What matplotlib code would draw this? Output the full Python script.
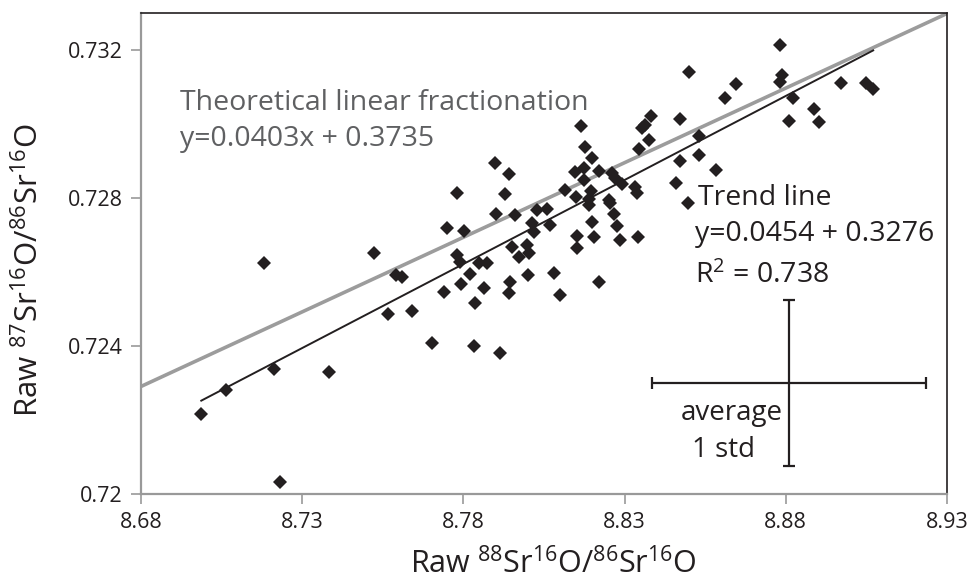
import numpy as np
import matplotlib
matplotlib.use("Agg")
import matplotlib.pyplot as plt

plt.rcParams['font.family'] = ['Open Sans', 'DejaVu Sans']
plt.rcParams['mathtext.fontset'] = 'custom'
plt.rcParams['mathtext.rm'] = 'Open Sans'
plt.rcParams['mathtext.it'] = 'Open Sans:italic'

# Messwerte (Raw 88Sr16O/86Sr16O, Raw 87Sr16O/86Sr16O)
x_88 = [8.6987, 8.7065, 8.7214, 8.7183, 8.7230, 8.7383, 8.7523, 8.7591, 8.7610, 8.7566,
        8.7641, 8.7703, 8.7741, 8.7781, 8.7791, 8.7847, 8.7872, 8.7819, 8.7794, 8.7865,
        8.7837, 8.7943, 8.7940, 8.7999, 8.8080, 8.8099, 8.7834, 8.7912, 8.8221, 8.7897,
        8.7940, 8.7781, 8.7928, 8.7900, 8.7959, 8.7750, 8.7803, 8.8027, 8.8059, 8.8012,
        8.8068, 8.8018, 8.7950, 8.7996, 8.7974, 8.8002, 8.8164, 8.8177, 8.8199, 8.8174,
        8.8146, 8.8221, 8.8174, 8.8261, 8.8270, 8.8292, 8.8333, 8.8115, 8.8149, 8.8196,
        8.8189, 8.8252, 8.8189, 8.8255, 8.8267, 8.8199, 8.8277, 8.8152, 8.8205, 8.8286,
        8.8342, 8.8152, 8.8383, 8.8364, 8.8355, 8.8376, 8.8345, 8.8473, 8.8460, 8.8339,
        8.8781, 8.8501, 8.8644, 8.8610, 8.8788, 8.8781, 8.8971, 8.9049, 8.9071, 8.8822,
        8.8887, 8.8903, 8.8809, 8.8532, 8.8473, 8.8532, 8.8582, 8.8498]
y_87 = [0.72216, 0.72281, 0.72338, 0.72624, 0.72032, 0.72330, 0.72651, 0.72592, 0.72586, 0.72486,
        0.72495, 0.72408, 0.72546, 0.72646, 0.72627, 0.72624, 0.72624, 0.72595, 0.72568, 0.72557,
        0.72516, 0.72573, 0.72543, 0.72592, 0.72597, 0.72538, 0.72400, 0.72381, 0.72573, 0.72895,
        0.72865, 0.72814, 0.72811, 0.72757, 0.72754, 0.72719, 0.72711, 0.72768, 0.72770, 0.72732,
        0.72727, 0.72708, 0.72668, 0.72673, 0.72641, 0.72651, 0.72995, 0.72938, 0.72908, 0.72881,
        0.72870, 0.72873, 0.72849, 0.72868, 0.72854, 0.72838, 0.72830, 0.72822, 0.72803, 0.72819,
        0.72797, 0.72795, 0.72781, 0.72786, 0.72757, 0.72735, 0.72724, 0.72697, 0.72695, 0.72686,
        0.72695, 0.72665, 0.73022, 0.72997, 0.72989, 0.72957, 0.72932, 0.73014, 0.72841, 0.72814,
        0.73214, 0.73141, 0.73108, 0.73070, 0.73132, 0.73114, 0.73111, 0.73111, 0.73095, 0.73070,
        0.73041, 0.73005, 0.73008, 0.72968, 0.72900, 0.72916, 0.72876, 0.72786]

# Linien
theo_slope, theo_int = 0.0403, 0.3731
trend_slope, trend_int = 0.0454, 0.3276

# Mittelwert und 1 std
avg_x, avg_y = 8.881, 0.72299
std_x, std_y = 0.0425, 0.00224

x_ticks = [8.68, 8.73, 8.78, 8.83, 8.88, 8.93]
x_ticklabels = ['8.68', '8.73', '8.78', '8.83', '8.88', '8.93']
y_ticks = [0.720, 0.724, 0.728, 0.732]
y_ticklabels = ['0.72', '0.724', '0.728', '0.732']

fig = plt.figure(figsize=(9.71, 5.83), dpi=100)
ax = fig.add_axes([0.1452, 0.1527, 0.8301, 0.8255])

# --------------------- Linien ---------------------
xl = np.array([8.68, 8.93])
ax.plot(xl, theo_slope * xl + theo_int, color='#9c9c9c', lw=2.6, zorder=2)
xt = np.array([min(x_88), max(x_88)])
ax.plot(xt, trend_slope * xt + trend_int, color='#231f20', lw=1.4, zorder=3)

# --------------------- Punkte ---------------------
ax.plot(x_88, y_87, 'D', color='#231f20', ms=7.6, mew=0, zorder=4)

# --------------------- Fehlerkreuz ---------------------
ax.errorbar([avg_x], [avg_y], xerr=[std_x], yerr=[std_y], fmt='none',
            ecolor='#231f20', elinewidth=1.6, capsize=4.5, capthick=1.6, zorder=3)

# --------------------- Texte ---------------------
grau = '#5f6062'
ax.text(8.6921, 0.73038, 'Theoretical linear fractionation', color=grau,
        fontsize=20.5, va='baseline', ha='left')
ax.text(8.6921, 0.72939, 'y=0.0403x + 0.3735', color=grau,
        fontsize=20.5, va='baseline', ha='left')
ax.text(8.8528, 0.72781, 'Trend line', color='#231f20', fontsize=20.5, va='baseline')
ax.text(8.8518, 0.72684, 'y=0.0454 + 0.3276', color='#231f20', fontsize=20.5, va='baseline')
ax.text(8.8518, 0.72571, r'R$^{2}$ = 0.738', color='#231f20', fontsize=20.5, va='baseline')
ax.text(8.8790, 0.72200, 'average', color='#231f20', fontsize=20, va='baseline', ha='right')
ax.text(8.8703, 0.72101, '1 std', color='#231f20', fontsize=20, va='baseline', ha='right')

# --------------------- Achsen ---------------------
ax.set_xlim(8.68, 8.93)
ax.set_ylim(0.72, 0.733)
ax.set_xticks(x_ticks)
ax.set_xticklabels(x_ticklabels)
ax.set_yticks(y_ticks)
ax.set_yticklabels(y_ticklabels)
ax.tick_params(direction='out', length=7, width=1.2, color='#999999',
               labelsize=15.5, labelcolor='#231f20', pad=6)
for s in ['left', 'bottom']:
    ax.spines[s].set_color('#999999')
    ax.spines[s].set_linewidth(1.6)
for s in ['top', 'right']:
    ax.spines[s].set_color('#231f20')
    ax.spines[s].set_linewidth(1.2)

ax.set_xlabel(r'Raw $^{88}$Sr$^{16}$O/$^{86}$Sr$^{16}$O', fontsize=22, color='#231f20',
              labelpad=11, x=0.512)
ax.set_ylabel(r'Raw $^{87}$Sr$^{16}$O/$^{86}$Sr$^{16}$O', fontsize=22.5, color='#231f20',
              labelpad=16, y=0.465)

fig.savefig('out.png', dpi=100)
